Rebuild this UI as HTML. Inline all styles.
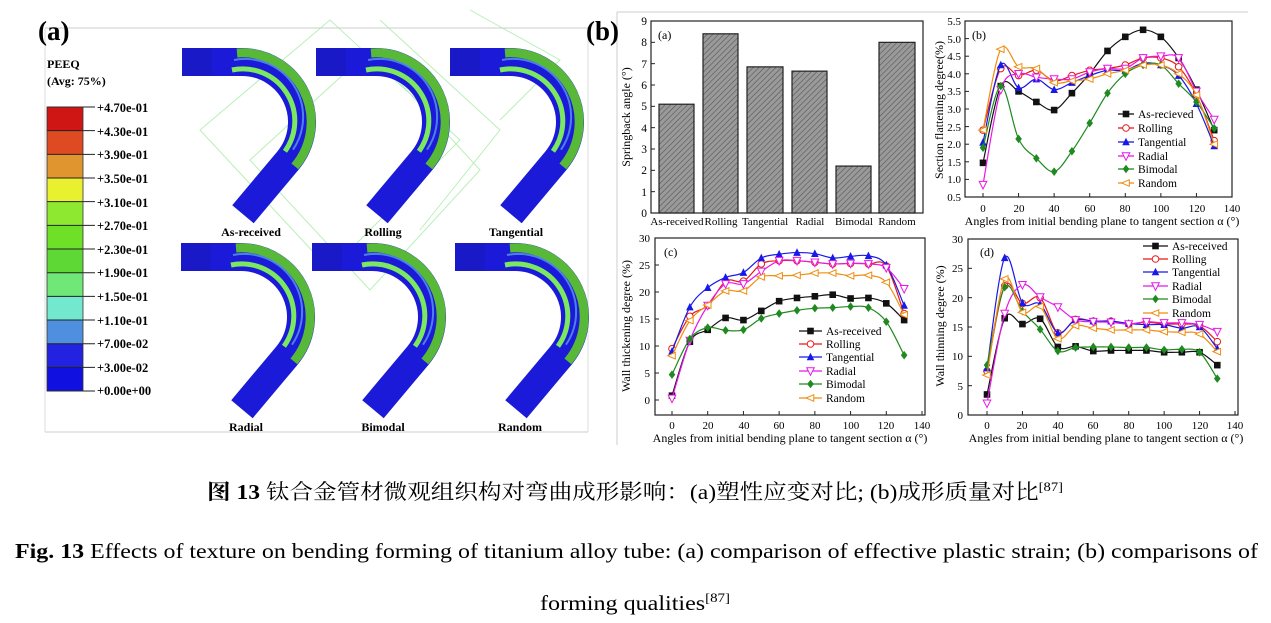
<!DOCTYPE html>
<html><head><meta charset="utf-8"><style>
body{margin:0;background:#fff;}
svg{display:block;font-family:"Liberation Serif",serif;}
</style></head><body>
<svg id="s" width="1271" height="623" viewBox="0 0 1271 623" xmlns="http://www.w3.org/2000/svg">
<defs>
<pattern id="hatch" width="4" height="4" patternUnits="userSpaceOnUse" patternTransform="rotate(45)">
<rect width="4" height="4" fill="#9a9a9a"/><line x1="0" y1="0" x2="0" y2="4" stroke="#555" stroke-width="1.2"/>
</pattern>
</defs>
<rect width="1271" height="623" fill="#fff"/>
<g stroke="#b8f0b8" stroke-width="1" fill="none">
<path d="M200 130 L330 20 L460 140 L330 270 Z"/>
<path d="M250 160 L370 50 L480 170 L370 290 Z"/>
<path d="M380 20 L500 130 L420 230"/>
<path d="M470 10 L560 60 L500 120"/>
</g>
<line x1="45" y1="28" x2="588" y2="28" stroke="#ccc"/>
<line x1="45" y1="432" x2="588" y2="432" stroke="#ccc"/>
<line x1="45" y1="28" x2="45" y2="432" stroke="#ddd"/>
<line x1="588" y1="28" x2="588" y2="432" stroke="#ddd"/>
<text x="38" y="40" font-size="27" font-weight="bold">(a)</text>
<text x="47" y="68" font-size="12" font-weight="bold">PEEQ</text>
<text x="47" y="85" font-size="12" font-weight="bold">(Avg: 75%)</text>
<g id="cbar"></g>
<g font-size="12.5" font-weight="bold">
<text x="97" y="112">+4.70e-01</text><text x="97" y="136">+4.30e-01</text><text x="97" y="159">+3.90e-01</text>
<text x="97" y="183">+3.50e-01</text><text x="97" y="207">+3.10e-01</text><text x="97" y="230">+2.70e-01</text>
<text x="97" y="254">+2.30e-01</text><text x="97" y="277">+1.90e-01</text><text x="97" y="301">+1.50e-01</text>
<text x="97" y="325">+1.10e-01</text><text x="97" y="348">+7.00e-02</text><text x="97" y="372">+3.00e-02</text>
<text x="97" y="395">+0.00e+00</text>
</g>
<g id="tubes"></g>
<g font-size="12" font-weight="bold" text-anchor="middle">
<text x="251" y="236">As-received</text><text x="383" y="236">Rolling</text><text x="516" y="236">Tangential</text>
<text x="246" y="431">Radial</text><text x="383" y="431">Bimodal</text><text x="520" y="431">Random</text>
</g>
<line x1="617" y1="12" x2="1248" y2="12" stroke="#ccc"/>
<line x1="617" y1="12" x2="617" y2="445" stroke="#ccc"/>
<text x="586" y="40" font-size="27" font-weight="bold">(b)</text>

<!-- chart a -->
<rect x="651" y="21" width="272" height="192" fill="none" stroke="#222" stroke-width="1.2"/>
<g id="bars"></g>
<g font-size="11.5" text-anchor="end">
<text x="647" y="217">0</text><text x="647" y="196">1</text><text x="647" y="174">2</text><text x="647" y="153">3</text>
<text x="647" y="132">4</text><text x="647" y="110">5</text><text x="647" y="89">6</text><text x="647" y="68">7</text>
<text x="647" y="46">8</text><text x="647" y="25">9</text>
</g>
<g font-size="11" text-anchor="middle">
<text x="677" y="225">As-received</text><text x="721" y="225">Rolling</text><text x="765" y="225">Tangential</text>
<text x="810" y="225">Radial</text><text x="854" y="225">Bimodal</text><text x="897" y="225">Random</text>
</g>
<text transform="translate(630,117) rotate(-90)" font-size="12" text-anchor="middle">Springback angle (°)</text>
<text x="658" y="39" font-size="12">(a)</text>

<!-- chart b -->
<rect x="965" y="21" width="267" height="176" fill="none" stroke="#222" stroke-width="1.2"/>
<g font-size="11" text-anchor="end">
<text x="961" y="201">0.5</text><text x="961" y="183">1.0</text><text x="961" y="166">1.5</text><text x="961" y="148">2.0</text>
<text x="961" y="131">2.5</text><text x="961" y="113">3.0</text><text x="961" y="95">3.5</text><text x="961" y="78">4.0</text>
<text x="961" y="60">4.5</text><text x="961" y="43">5.0</text><text x="961" y="25">5.5</text>
</g>
<g font-size="11" text-anchor="middle">
<text x="983" y="212">0</text><text x="1019" y="212">20</text><text x="1054" y="212">40</text><text x="1090" y="212">60</text>
<text x="1125" y="212">80</text><text x="1161" y="212">100</text><text x="1197" y="212">120</text><text x="1232" y="212">140</text>
</g>
<text x="1102" y="225" font-size="12" text-anchor="middle">Angles from initial bending plane to tangent section α (°)</text>
<text transform="translate(943,110) rotate(-90)" font-size="12" text-anchor="middle">Section flattening degree(%)</text>
<text x="972" y="39" font-size="12">(b)</text>
<g font-size="11.5">
<text x="1138" y="118">As-recieved</text><text x="1138" y="132">Rolling</text><text x="1138" y="146">Tangential</text>
<text x="1138" y="160">Radial</text><text x="1138" y="173">Bimodal</text><text x="1138" y="187">Random</text>
</g>

<!-- chart c -->
<rect x="655" y="238" width="270" height="177" fill="none" stroke="#222" stroke-width="1.2"/>
<g font-size="11" text-anchor="end">
<text x="650" y="404">0</text><text x="650" y="377">5</text><text x="650" y="350">10</text><text x="650" y="323">15</text>
<text x="650" y="296">20</text><text x="650" y="269">25</text><text x="650" y="242">30</text>
</g>
<g font-size="11" text-anchor="middle">
<text x="672" y="429">0</text><text x="708" y="429">20</text><text x="744" y="429">40</text><text x="779" y="429">60</text>
<text x="815" y="429">80</text><text x="851" y="429">100</text><text x="886" y="429">120</text><text x="922" y="429">140</text>
</g>
<text x="790" y="442" font-size="12" text-anchor="middle">Angles from initial bending plane to tangent section α (°)</text>
<text transform="translate(630,326) rotate(-90)" font-size="12" text-anchor="middle">Wall thickening degree (%)</text>
<text x="664" y="256" font-size="12">(c)</text>
<g font-size="11.5">
<text x="826" y="335">As-received</text><text x="826" y="348">Rolling</text><text x="826" y="361">Tangential</text>
<text x="826" y="375">Radial</text><text x="826" y="388">Bimodal</text><text x="826" y="402">Random</text>
</g>

<!-- chart d -->
<rect x="968" y="239" width="270" height="176" fill="none" stroke="#222" stroke-width="1.2"/>
<g font-size="11" text-anchor="end">
<text x="963" y="419">0</text><text x="963" y="390">5</text><text x="963" y="360">10</text><text x="963" y="331">15</text>
<text x="963" y="302">20</text><text x="963" y="272">25</text><text x="963" y="243">30</text>
</g>
<g font-size="11" text-anchor="middle">
<text x="987" y="429">0</text><text x="1022" y="429">20</text><text x="1058" y="429">40</text><text x="1093" y="429">60</text>
<text x="1129" y="429">80</text><text x="1164" y="429">100</text><text x="1200" y="429">120</text><text x="1235" y="429">140</text>
</g>
<text x="1106" y="442" font-size="12" text-anchor="middle">Angles from initial bending plane to tangent section α (°)</text>
<text transform="translate(944,326) rotate(-90)" font-size="12" text-anchor="middle">Wall thinning degree (%)</text>
<text x="980" y="256" font-size="12">(d)</text>
<g font-size="11.5">
<text x="1172" y="250">As-received</text><text x="1172" y="263">Rolling</text><text x="1172" y="276">Tangential</text>
<text x="1172" y="290">Radial</text><text x="1172" y="303">Bimodal</text><text x="1172" y="317">Random</text>
</g>
<g id="plots"></g>

<!-- captions -->
<text x="207" y="499" font-size="21" textLength="856" lengthAdjust="spacingAndGlyphs" font-family="'Liberation Serif','Noto Serif CJK SC',serif"><tspan font-weight="bold">图 13</tspan>  钛合金管材微观组织构对弯曲成形影响：(a)塑性应变对比; (b)成形质量对比<tspan font-size="13" dy="-8">[87]</tspan></text>
<text x="15" y="558" font-size="21" textLength="1243" lengthAdjust="spacingAndGlyphs"><tspan font-weight="bold">Fig. 13</tspan> Effects of texture on bending forming of titanium alloy tube: (a) comparison of effective plastic strain; (b) comparisons of</text>
<text x="540" y="610" font-size="21" textLength="190" lengthAdjust="spacingAndGlyphs">forming qualities<tspan font-size="13" dy="-8">[87]</tspan></text>
</svg>
<script>
var NS="http://www.w3.org/2000/svg";
function el(p,t,a){var e=document.createElementNS(NS,t);for(var k in a)e.setAttribute(k,a[k]);p.appendChild(e);return e;}
var cb=document.getElementById("cbar");
var cols=["#d01515","#de4a22","#e0952e","#e8f030","#8ee830","#6ee028","#5ed835","#70e878","#72e8cf","#4f8fe0","#2222e0","#1010e0"];
for(var i=0;i<12;i++){var y=107+i*23.67;el(cb,"rect",{x:47,y:y,width:36,height:23.67,fill:cols[i]});}
for(var i=0;i<=12;i++){var y=107+i*23.67;el(cb,"line",{x1:47,y1:y,x2:95,y2:y,stroke:"#222","stroke-width":1});}
el(cb,"rect",{x:47,y:107,width:36,height:284,fill:"none",stroke:"#333","stroke-width":0.8});
var tg=document.getElementById("tubes");
function tube(x0,y0){
 var xc=x0+60,R=74,r=46,rc=60,yc=y0+R;
 var a1=40*Math.PI/180;
 var ex=xc+rc*Math.cos(a1),ey=yc+rc*Math.sin(a1);
 var dx=-Math.sin(a1),dy=Math.cos(a1),L=70;
 var d="M"+x0+" "+(y0+14)+" L"+xc+" "+(y0+14)+" A"+rc+" "+rc+" 0 0 1 "+ex+" "+ey+" L"+(ex+dx*L)+" "+(ey+dy*L);
 el(tg,"path",{d:d,fill:"none",stroke:"#1a1ad8","stroke-width":28});
 var ox=xc+(R-5)*Math.cos(a1),oy=yc+(R-5)*Math.sin(a1);
 el(tg,"path",{d:"M"+(xc-5)+" "+(y0+5)+" A"+(R-5)+" "+(R-5)+" 0 0 1 "+ox+" "+oy,fill:"none",stroke:"#58b838","stroke-width":9});
 var ix=xc+(r+6)*Math.cos(a1-0.1),iy=yc+(r+6)*Math.sin(a1-0.1);
 el(tg,"path",{d:"M"+(xc-10)+" "+(y0+22)+" A"+(r+6)+" "+(r+6)+" 0 0 1 "+ix+" "+iy,fill:"none",stroke:"#7ce860","stroke-width":5});
 el(tg,"path",{d:"M"+(xc-8)+" "+(y0+12)+" A"+(rc-2)+" "+(rc-2)+" 0 0 1 "+(xc+(rc-2)*Math.cos(a1-0.2))+" "+(yc+(rc-2)*Math.sin(a1-0.2)),fill:"none",stroke:"#5a9ae8","stroke-width":2,opacity:0.8});
 el(tg,"rect",{x:x0,y:y0,width:30,height:28,fill:"#1818b8",opacity:0.5});
}
tube(182,48);tube(316,48);tube(450,48);tube(181,243);tube(312,243);tube(455,243);
var bg=document.getElementById("bars");
var bars=[[659,694,5.1],[703,738,8.4],[747,783,6.85],[792,827,6.65],[836,871,2.2],[879,915,8.0]];
bars.forEach(function(b){var y=213-b[2]/9*192;el(bg,"rect",{x:b[0],y:y,width:b[1]-b[0],height:213-y,fill:"url(#hatch)",stroke:"#222","stroke-width":1.2});});
var pg=document.getElementById("plots");
var C=["#111","#e81818","#1818e8","#e818e8","#1f8a1f","#f08c10"];
var M=["sq","oc","tu","td","di","tl"];
function marker(x,y,i,s){s=s||3.3;var c=C[i],m=M[i];
 if(m=="sq")el(pg,"rect",{x:x-s,y:y-s,width:2*s,height:2*s,fill:c});
 else if(m=="oc")el(pg,"circle",{cx:x,cy:y,r:s,fill:"#fff",stroke:c,"stroke-width":1});
 else if(m=="tu")el(pg,"path",{d:"M"+x+" "+(y-s-1)+"L"+(x+s+0.5)+" "+(y+s)+"L"+(x-s-0.5)+" "+(y+s)+"Z",fill:c});
 else if(m=="td")el(pg,"path",{d:"M"+x+" "+(y+s+1)+"L"+(x+s+0.5)+" "+(y-s)+"L"+(x-s-0.5)+" "+(y-s)+"Z",fill:"#fff",stroke:c,"stroke-width":1});
 else if(m=="di")el(pg,"path",{d:"M"+x+" "+(y-s-1)+"L"+(x+s)+" "+y+"L"+x+" "+(y+s+1)+"L"+(x-s)+" "+y+"Z",fill:c});
 else el(pg,"path",{d:"M"+(x-s-1)+" "+y+"L"+(x+s)+" "+(y-s)+"L"+(x+s)+" "+(y+s)+"Z",fill:"#fff",stroke:c,"stroke-width":1});
}
function curve(pts){var d="M"+pts[0][0]+" "+pts[0][1];
 for(var i=0;i<pts.length-1;i++){var p0=pts[i-1]||pts[i],p1=pts[i],p2=pts[i+1],p3=pts[i+2]||p2;
  var c1=[p1[0]+(p2[0]-p0[0])/6,p1[1]+(p2[1]-p0[1])/6],c2=[p2[0]-(p3[0]-p1[0])/6,p2[1]-(p3[1]-p1[1])/6];
  d+="C"+c1+" "+c2+" "+p2;}return d;}
function chart(X,Y,data,leg){
 data.forEach(function(s,i){var pts=s.map(function(v,j){return [X(j*10),Y(v)];});
  el(pg,"path",{d:curve(pts),fill:"none",stroke:C[i],"stroke-width":1.2});
  pts.forEach(function(p){marker(p[0],p[1],i);});
  var ly=leg[2][i];el(pg,"line",{x1:leg[0],y1:ly,x2:leg[1],y2:ly,stroke:C[i],"stroke-width":1.3});marker((leg[0]+leg[1])/2,ly,i);
 });}
chart(function(v){return 983+v/140*249;},function(v){return 197-(v-0.5)/5*176;},[
[1.47,3.65,3.5,3.2,2.97,3.45,4.0,4.65,5.05,5.25,5.05,4.45,3.55,2.4],
[2.4,4.15,3.95,4.1,3.8,3.95,4.1,4.15,4.25,4.45,4.45,4.2,3.4,2.1],
[2.05,4.25,3.6,3.85,3.55,3.75,3.95,4.1,4.1,4.3,4.25,3.95,3.15,1.95],
[0.85,3.55,4.0,3.9,3.85,3.85,4.05,4.15,4.15,4.45,4.5,4.45,3.5,2.7],
[1.9,3.65,2.15,1.6,1.22,1.8,2.6,3.45,4.0,4.25,4.25,3.72,3.2,2.45],
[2.4,4.7,4.2,4.15,3.75,3.8,3.85,4.0,4.1,4.25,4.25,4.0,3.4,2.0]],[1118,1134,[114,128,142,156,169,183]]);
chart(function(v){return 672+v/140*250;},function(v){return 400-v*5.4;},[
[0.8,10.8,13,15.2,14.8,16.5,18.3,18.9,19.2,19.5,18.8,18.9,17.9,14.8],
[9.5,15.5,17.5,22,22,25.2,25.8,25.8,25.5,25.2,25.3,25.2,24.8,16],
[9,17.2,20.8,22.7,23.6,26.3,27,27.3,27.1,26.3,26.6,26.7,25,17.5],
[0.3,11,17.5,21.5,21.5,23.8,25.8,25.8,25.5,25.2,25.3,25.2,24.5,20.6],
[4.7,11.3,13.4,12.9,13,15.1,16,16.6,17,17.1,17.3,17.1,14.5,8.3],
[8.2,14.7,17.6,20.2,20.2,22.8,23,23.1,23.5,23.5,23,23.1,21.8,15.8]],[799,822,[331,344,357,371,384,398]]);
chart(function(v){return 987+v/140*248;},function(v){return 415-v/30*176;},[
[3.5,16.5,15.5,16.4,11.6,11.7,10.9,11,11,11,10.7,10.7,10.7,8.5],
[7.5,22,19,20,14,16.3,16,16,15.5,15.8,15.5,15.5,15.2,12.5],
[8,26.8,19.1,18.9,14,16.2,16,16,15.6,15.4,15.4,14.8,15,11.3],
[2,17.3,22.2,20.1,18.4,16.2,15.9,15.8,15.5,15.9,15.7,15.7,15.4,14.2],
[8.5,21.8,17.7,14.6,10.9,11.5,11.6,11.6,11.5,11.5,11.1,11.2,10.7,6.2],
[6.8,23.2,17.5,18.5,13,15.2,14.8,14.5,14.5,14.5,14.2,14.1,13.8,10.8]],[1143,1168,[246,259,272,286,299,313]]);
function ticks(xs,y0,ys,x0){xs.forEach(function(x){el(pg,"line",{x1:x,y1:y0,x2:x,y2:y0-4,stroke:"#222"});});
 ys.forEach(function(y){el(pg,"line",{x1:x0,y1:y,x2:x0+4,y2:y,stroke:"#222"});});}
var bx=[],cx=[],dx=[],by=[],cy=[],dy=[],ay=[];
for(var k=0;k<=7;k++){bx.push(983+k*20/140*249);cx.push(672+k*20/140*250);dx.push(987+k*20/140*248);}
for(var k=0;k<=10;k++)by.push(197-k*17.6);
for(var k=0;k<=6;k++){cy.push(400-k*27);dy.push(415-k*5/30*176);}
for(var k=0;k<=9;k++)ay.push(213-k*192/9);
ticks(bx,197,by,965);ticks(cx,415,cy,655);ticks(dx,415,dy,968);ticks([],213,ay,651);
</script>
</body></html>
